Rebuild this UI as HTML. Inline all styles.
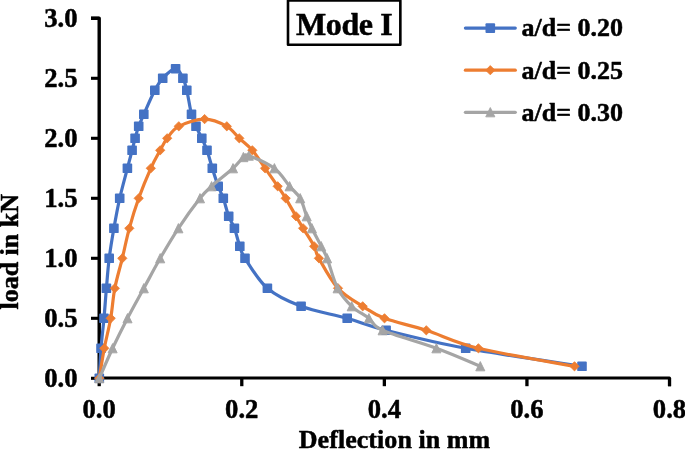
<!DOCTYPE html>
<html><head><meta charset="utf-8"><title>Mode I</title>
<style>
html,body{margin:0;padding:0;background:#fff;}
body{width:685px;height:449px;overflow:hidden;}
svg{display:block;}
text{font-family:"Liberation Serif",serif;font-weight:bold;fill:#000;stroke:#000;stroke-width:0.5px;stroke-linejoin:round;}
.ax{font-size:26px;}
.tk{font-size:26.67px;stroke-width:0.5px;}
.lg{font-size:26px;}
.ti{font-size:32px;letter-spacing:-0.4px;}
</style></head><body>
<svg width="685" height="449" viewBox="0 0 685 449">
<rect width="685" height="449" fill="#fff"/>
<rect x="288.0" y="0.55" width="112.35" height="44.15" fill="#fff" stroke="#000" stroke-width="2.6" stroke-linejoin="round"/>
<text class="ti" x="344.2" y="34.7" text-anchor="middle">Mode I</text>
<g stroke="#000" stroke-width="3.30" fill="none">
<path stroke-width="3.4" stroke-linejoin="round" d="M91 18.30 H99.20 V379.80"/>
<path stroke-width="3.0" stroke-linejoin="round" d="M97.60 378.10 H669.52 V386.2"/>
</g>
<g stroke="#000" stroke-width="3.1" fill="none">
<path d="M91 378.30 H99"/>
<path d="M91 318.30 H99"/>
<path d="M91 258.30 H99"/>
<path d="M91 198.30 H99"/>
<path d="M91 138.30 H99"/>
<path d="M91 78.30 H99"/>
<path d="M91 18.30 H99"/>
<path stroke-width="3.3" d="M99.20 378 V386.2"/>
<path stroke-width="3.3" d="M241.78 378 V386.2"/>
<path stroke-width="3.3" d="M384.36 378 V386.2"/>
<path stroke-width="3.3" d="M526.94 378 V386.2"/>
<path stroke-width="3.3" d="M669.52 378 V386.2"/>
</g>
<text class="tk" x="77.5" y="386.80" text-anchor="end">0.0</text>
<text class="tk" x="77.5" y="326.80" text-anchor="end">0.5</text>
<text class="tk" x="77.5" y="266.80" text-anchor="end">1.0</text>
<text class="tk" x="77.5" y="206.80" text-anchor="end">1.5</text>
<text class="tk" x="77.5" y="146.80" text-anchor="end">2.0</text>
<text class="tk" x="77.5" y="86.80" text-anchor="end">2.5</text>
<text class="tk" x="77.5" y="26.80" text-anchor="end">3.0</text>
<text class="tk" x="99.20" y="417.8" text-anchor="middle">0.0</text>
<text class="tk" x="241.78" y="417.8" text-anchor="middle">0.2</text>
<text class="tk" x="384.36" y="417.8" text-anchor="middle">0.4</text>
<text class="tk" x="526.94" y="417.8" text-anchor="middle">0.6</text>
<text class="tk" x="669.52" y="417.8" text-anchor="middle">0.8</text>
<text class="ax" x="394.5" y="448.4" text-anchor="middle" style="letter-spacing:0.05px">Deflection in mm</text>
<text class="ax" transform="translate(18.2 251.8) rotate(-90)" text-anchor="middle">load in kN</text>
<path d="M99.30 378.30 C99.58 373.30 100.22 358.30 101.00 348.30 C101.78 338.30 103.10 328.30 104.00 318.30 C104.90 308.30 105.53 298.30 106.40 288.30 C107.27 278.30 107.95 268.30 109.20 258.30 C110.45 248.30 112.15 238.30 113.90 228.30 C115.65 218.30 117.45 208.30 119.70 198.30 C121.95 188.30 125.33 176.30 127.40 168.30 C129.47 160.30 130.82 155.30 132.10 150.30 C133.38 145.30 134.00 142.30 135.10 138.30 C136.20 134.30 137.25 130.30 138.70 126.30 C140.15 122.30 141.12 120.30 143.80 114.30 C146.48 108.30 151.65 96.30 154.80 90.30 C157.95 84.30 159.23 81.90 162.70 78.30 C166.17 74.70 172.23 68.70 175.60 68.70 C178.97 68.70 181.03 74.70 182.90 78.30 C184.77 81.90 185.37 84.30 186.80 90.30 C188.23 96.30 189.97 108.30 191.50 114.30 C193.03 120.30 194.28 122.30 196.00 126.30 C197.72 130.30 199.97 134.30 201.80 138.30 C203.63 142.30 205.25 145.30 207.00 150.30 C208.75 155.30 210.43 162.30 212.30 168.30 C214.17 174.30 216.37 181.30 218.20 186.30 C220.03 191.30 221.55 193.30 223.30 198.30 C225.05 203.30 226.85 211.30 228.70 216.30 C230.55 221.30 232.55 223.30 234.40 228.30 C236.25 233.30 238.03 241.30 239.80 246.30 C241.57 251.30 240.40 251.30 245.00 258.30 C249.60 265.30 258.05 280.30 267.40 288.30 C276.75 296.30 287.80 301.30 301.10 306.30 C314.40 311.30 333.03 314.30 347.20 318.30 C361.37 322.30 366.35 325.30 386.10 330.30 C405.85 335.30 433.05 342.30 465.70 348.30 C498.35 354.30 562.62 363.30 582.00 366.30" fill="none" stroke="#4472C4" stroke-width="3.20" stroke-linejoin="round" stroke-linecap="round"/>
<g><rect x="94.50" y="373.50" width="9.60" height="9.60" rx="0.9" fill="#4472C4"/><rect x="96.20" y="343.50" width="9.60" height="9.60" rx="0.9" fill="#4472C4"/><rect x="99.20" y="313.50" width="9.60" height="9.60" rx="0.9" fill="#4472C4"/><rect x="101.60" y="283.50" width="9.60" height="9.60" rx="0.9" fill="#4472C4"/><rect x="104.40" y="253.50" width="9.60" height="9.60" rx="0.9" fill="#4472C4"/><rect x="109.10" y="223.50" width="9.60" height="9.60" rx="0.9" fill="#4472C4"/><rect x="114.90" y="193.50" width="9.60" height="9.60" rx="0.9" fill="#4472C4"/><rect x="122.60" y="163.50" width="9.60" height="9.60" rx="0.9" fill="#4472C4"/><rect x="127.30" y="145.50" width="9.60" height="9.60" rx="0.9" fill="#4472C4"/><rect x="130.30" y="133.50" width="9.60" height="9.60" rx="0.9" fill="#4472C4"/><rect x="133.90" y="121.50" width="9.60" height="9.60" rx="0.9" fill="#4472C4"/><rect x="139.00" y="109.50" width="9.60" height="9.60" rx="0.9" fill="#4472C4"/><rect x="150.00" y="85.50" width="9.60" height="9.60" rx="0.9" fill="#4472C4"/><rect x="157.90" y="73.50" width="9.60" height="9.60" rx="0.9" fill="#4472C4"/><rect x="170.80" y="63.90" width="9.60" height="9.60" rx="0.9" fill="#4472C4"/><rect x="178.10" y="73.50" width="9.60" height="9.60" rx="0.9" fill="#4472C4"/><rect x="182.00" y="85.50" width="9.60" height="9.60" rx="0.9" fill="#4472C4"/><rect x="186.70" y="109.50" width="9.60" height="9.60" rx="0.9" fill="#4472C4"/><rect x="191.20" y="121.50" width="9.60" height="9.60" rx="0.9" fill="#4472C4"/><rect x="197.00" y="133.50" width="9.60" height="9.60" rx="0.9" fill="#4472C4"/><rect x="202.20" y="145.50" width="9.60" height="9.60" rx="0.9" fill="#4472C4"/><rect x="207.50" y="163.50" width="9.60" height="9.60" rx="0.9" fill="#4472C4"/><rect x="213.40" y="181.50" width="9.60" height="9.60" rx="0.9" fill="#4472C4"/><rect x="218.50" y="193.50" width="9.60" height="9.60" rx="0.9" fill="#4472C4"/><rect x="223.90" y="211.50" width="9.60" height="9.60" rx="0.9" fill="#4472C4"/><rect x="229.60" y="223.50" width="9.60" height="9.60" rx="0.9" fill="#4472C4"/><rect x="235.00" y="241.50" width="9.60" height="9.60" rx="0.9" fill="#4472C4"/><rect x="240.20" y="253.50" width="9.60" height="9.60" rx="0.9" fill="#4472C4"/><rect x="262.60" y="283.50" width="9.60" height="9.60" rx="0.9" fill="#4472C4"/><rect x="296.30" y="301.50" width="9.60" height="9.60" rx="0.9" fill="#4472C4"/><rect x="342.40" y="313.50" width="9.60" height="9.60" rx="0.9" fill="#4472C4"/><rect x="381.30" y="325.50" width="9.60" height="9.60" rx="0.9" fill="#4472C4"/><rect x="460.90" y="343.50" width="9.60" height="9.60" rx="0.9" fill="#4472C4"/><rect x="577.20" y="361.50" width="9.60" height="9.60" rx="0.9" fill="#4472C4"/></g>
<path d="M99.30 378.30 C100.13 373.30 102.40 358.30 104.30 348.30 C106.20 338.30 108.95 328.30 110.70 318.30 C112.45 308.30 112.87 298.30 114.80 288.30 C116.73 278.30 119.88 268.30 122.30 258.30 C124.72 248.30 126.57 238.30 129.30 228.30 C132.03 218.30 135.12 208.30 138.70 198.30 C142.28 188.30 147.22 176.30 150.80 168.30 C154.38 160.30 157.47 155.30 160.20 150.30 C162.93 145.30 164.10 142.30 167.20 138.30 C170.30 134.30 172.57 129.50 178.80 126.30 C185.03 123.10 196.60 119.10 204.60 119.10 C212.60 119.10 221.02 123.10 226.80 126.30 C232.58 129.50 235.05 134.30 239.30 138.30 C243.55 142.30 248.00 145.30 252.30 150.30 C256.60 155.30 260.87 162.30 265.10 168.30 C269.33 174.30 274.27 181.30 277.70 186.30 C281.13 191.30 282.65 193.30 285.70 198.30 C288.75 203.30 293.10 211.30 296.00 216.30 C298.90 221.30 300.07 223.30 303.10 228.30 C306.13 233.30 311.57 241.30 314.20 246.30 C316.83 251.30 314.93 251.30 318.90 258.30 C322.87 265.30 330.70 280.30 338.00 288.30 C345.30 296.30 354.95 301.30 362.70 306.30 C370.45 311.30 373.90 314.30 384.50 318.30 C395.10 322.30 410.65 325.30 426.30 330.30 C441.95 335.30 453.70 342.30 478.40 348.30 C503.10 354.30 558.48 363.30 574.50 366.30" fill="none" stroke="#ED7D31" stroke-width="3.20" stroke-linejoin="round" stroke-linecap="round"/>
<g><path d="M99.30 373.65 L103.95 378.30 L99.30 382.95 L94.65 378.30Z" fill="#ED7D31" stroke="#ED7D31" stroke-width="0.8" stroke-linejoin="round"/><path d="M104.30 343.65 L108.95 348.30 L104.30 352.95 L99.65 348.30Z" fill="#ED7D31" stroke="#ED7D31" stroke-width="0.8" stroke-linejoin="round"/><path d="M110.70 313.65 L115.35 318.30 L110.70 322.95 L106.05 318.30Z" fill="#ED7D31" stroke="#ED7D31" stroke-width="0.8" stroke-linejoin="round"/><path d="M114.80 283.65 L119.45 288.30 L114.80 292.95 L110.15 288.30Z" fill="#ED7D31" stroke="#ED7D31" stroke-width="0.8" stroke-linejoin="round"/><path d="M122.30 253.65 L126.95 258.30 L122.30 262.95 L117.65 258.30Z" fill="#ED7D31" stroke="#ED7D31" stroke-width="0.8" stroke-linejoin="round"/><path d="M129.30 223.65 L133.95 228.30 L129.30 232.95 L124.65 228.30Z" fill="#ED7D31" stroke="#ED7D31" stroke-width="0.8" stroke-linejoin="round"/><path d="M138.70 193.65 L143.35 198.30 L138.70 202.95 L134.05 198.30Z" fill="#ED7D31" stroke="#ED7D31" stroke-width="0.8" stroke-linejoin="round"/><path d="M150.80 163.65 L155.45 168.30 L150.80 172.95 L146.15 168.30Z" fill="#ED7D31" stroke="#ED7D31" stroke-width="0.8" stroke-linejoin="round"/><path d="M160.20 145.65 L164.85 150.30 L160.20 154.95 L155.55 150.30Z" fill="#ED7D31" stroke="#ED7D31" stroke-width="0.8" stroke-linejoin="round"/><path d="M167.20 133.65 L171.85 138.30 L167.20 142.95 L162.55 138.30Z" fill="#ED7D31" stroke="#ED7D31" stroke-width="0.8" stroke-linejoin="round"/><path d="M178.80 121.65 L183.45 126.30 L178.80 130.95 L174.15 126.30Z" fill="#ED7D31" stroke="#ED7D31" stroke-width="0.8" stroke-linejoin="round"/><path d="M204.60 114.45 L209.25 119.10 L204.60 123.75 L199.95 119.10Z" fill="#ED7D31" stroke="#ED7D31" stroke-width="0.8" stroke-linejoin="round"/><path d="M226.80 121.65 L231.45 126.30 L226.80 130.95 L222.15 126.30Z" fill="#ED7D31" stroke="#ED7D31" stroke-width="0.8" stroke-linejoin="round"/><path d="M239.30 133.65 L243.95 138.30 L239.30 142.95 L234.65 138.30Z" fill="#ED7D31" stroke="#ED7D31" stroke-width="0.8" stroke-linejoin="round"/><path d="M252.30 145.65 L256.95 150.30 L252.30 154.95 L247.65 150.30Z" fill="#ED7D31" stroke="#ED7D31" stroke-width="0.8" stroke-linejoin="round"/><path d="M265.10 163.65 L269.75 168.30 L265.10 172.95 L260.45 168.30Z" fill="#ED7D31" stroke="#ED7D31" stroke-width="0.8" stroke-linejoin="round"/><path d="M277.70 181.65 L282.35 186.30 L277.70 190.95 L273.05 186.30Z" fill="#ED7D31" stroke="#ED7D31" stroke-width="0.8" stroke-linejoin="round"/><path d="M285.70 193.65 L290.35 198.30 L285.70 202.95 L281.05 198.30Z" fill="#ED7D31" stroke="#ED7D31" stroke-width="0.8" stroke-linejoin="round"/><path d="M296.00 211.65 L300.65 216.30 L296.00 220.95 L291.35 216.30Z" fill="#ED7D31" stroke="#ED7D31" stroke-width="0.8" stroke-linejoin="round"/><path d="M303.10 223.65 L307.75 228.30 L303.10 232.95 L298.45 228.30Z" fill="#ED7D31" stroke="#ED7D31" stroke-width="0.8" stroke-linejoin="round"/><path d="M314.20 241.65 L318.85 246.30 L314.20 250.95 L309.55 246.30Z" fill="#ED7D31" stroke="#ED7D31" stroke-width="0.8" stroke-linejoin="round"/><path d="M318.90 253.65 L323.55 258.30 L318.90 262.95 L314.25 258.30Z" fill="#ED7D31" stroke="#ED7D31" stroke-width="0.8" stroke-linejoin="round"/><path d="M338.00 283.65 L342.65 288.30 L338.00 292.95 L333.35 288.30Z" fill="#ED7D31" stroke="#ED7D31" stroke-width="0.8" stroke-linejoin="round"/><path d="M362.70 301.65 L367.35 306.30 L362.70 310.95 L358.05 306.30Z" fill="#ED7D31" stroke="#ED7D31" stroke-width="0.8" stroke-linejoin="round"/><path d="M384.50 313.65 L389.15 318.30 L384.50 322.95 L379.85 318.30Z" fill="#ED7D31" stroke="#ED7D31" stroke-width="0.8" stroke-linejoin="round"/><path d="M426.30 325.65 L430.95 330.30 L426.30 334.95 L421.65 330.30Z" fill="#ED7D31" stroke="#ED7D31" stroke-width="0.8" stroke-linejoin="round"/><path d="M478.40 343.65 L483.05 348.30 L478.40 352.95 L473.75 348.30Z" fill="#ED7D31" stroke="#ED7D31" stroke-width="0.8" stroke-linejoin="round"/><path d="M574.50 361.65 L579.15 366.30 L574.50 370.95 L569.85 366.30Z" fill="#ED7D31" stroke="#ED7D31" stroke-width="0.8" stroke-linejoin="round"/></g>
<path d="M99.30 378.30 C101.52 373.30 107.90 358.30 112.60 348.30 C117.30 338.30 122.30 328.30 127.50 318.30 C132.70 308.30 138.35 298.30 143.80 288.30 C149.25 278.30 154.43 268.30 160.20 258.30 C165.97 248.30 171.77 238.30 178.40 228.30 C185.03 218.30 194.47 205.30 200.00 198.30 C205.53 191.30 206.10 191.30 211.60 186.30 C217.10 181.30 227.70 173.16 233.00 168.30 C238.30 163.44 240.77 159.24 243.40 157.14 C246.03 155.04 243.63 153.84 248.80 155.70 C253.97 157.56 267.60 163.20 274.40 168.30 C281.20 173.40 285.30 181.30 289.60 186.30 C293.90 191.30 297.35 193.30 300.20 198.30 C303.05 203.30 304.75 211.30 306.70 216.30 C308.65 221.30 309.48 223.30 311.90 228.30 C314.32 233.30 318.67 241.30 321.20 246.30 C323.73 251.30 324.37 251.30 327.10 258.30 C329.83 265.30 333.50 280.30 337.60 288.30 C341.70 296.30 346.48 301.30 351.70 306.30 C356.92 311.30 363.75 314.30 368.90 318.30 C374.05 322.30 371.35 325.30 382.60 330.30 C393.85 335.30 420.12 342.30 436.40 348.30 C452.68 354.30 472.98 363.30 480.30 366.30" fill="none" stroke="#A5A5A5" stroke-width="3.20" stroke-linejoin="round" stroke-linecap="round"/>
<g><path d="M99.30 373.55 L103.85 382.85 L94.75 382.85Z" fill="#A5A5A5" stroke="#A5A5A5" stroke-width="0.9" stroke-linejoin="round"/><path d="M112.60 343.55 L117.15 352.85 L108.05 352.85Z" fill="#A5A5A5" stroke="#A5A5A5" stroke-width="0.9" stroke-linejoin="round"/><path d="M127.50 313.55 L132.05 322.85 L122.95 322.85Z" fill="#A5A5A5" stroke="#A5A5A5" stroke-width="0.9" stroke-linejoin="round"/><path d="M143.80 283.55 L148.35 292.85 L139.25 292.85Z" fill="#A5A5A5" stroke="#A5A5A5" stroke-width="0.9" stroke-linejoin="round"/><path d="M160.20 253.55 L164.75 262.85 L155.65 262.85Z" fill="#A5A5A5" stroke="#A5A5A5" stroke-width="0.9" stroke-linejoin="round"/><path d="M178.40 223.55 L182.95 232.85 L173.85 232.85Z" fill="#A5A5A5" stroke="#A5A5A5" stroke-width="0.9" stroke-linejoin="round"/><path d="M200.00 193.55 L204.55 202.85 L195.45 202.85Z" fill="#A5A5A5" stroke="#A5A5A5" stroke-width="0.9" stroke-linejoin="round"/><path d="M211.60 181.55 L216.15 190.85 L207.05 190.85Z" fill="#A5A5A5" stroke="#A5A5A5" stroke-width="0.9" stroke-linejoin="round"/><path d="M233.00 163.55 L237.55 172.85 L228.45 172.85Z" fill="#A5A5A5" stroke="#A5A5A5" stroke-width="0.9" stroke-linejoin="round"/><path d="M243.40 152.39 L247.95 161.69 L238.85 161.69Z" fill="#A5A5A5" stroke="#A5A5A5" stroke-width="0.9" stroke-linejoin="round"/><path d="M248.80 150.95 L253.35 160.25 L244.25 160.25Z" fill="#A5A5A5" stroke="#A5A5A5" stroke-width="0.9" stroke-linejoin="round"/><path d="M274.40 163.55 L278.95 172.85 L269.85 172.85Z" fill="#A5A5A5" stroke="#A5A5A5" stroke-width="0.9" stroke-linejoin="round"/><path d="M289.60 181.55 L294.15 190.85 L285.05 190.85Z" fill="#A5A5A5" stroke="#A5A5A5" stroke-width="0.9" stroke-linejoin="round"/><path d="M300.20 193.55 L304.75 202.85 L295.65 202.85Z" fill="#A5A5A5" stroke="#A5A5A5" stroke-width="0.9" stroke-linejoin="round"/><path d="M306.70 211.55 L311.25 220.85 L302.15 220.85Z" fill="#A5A5A5" stroke="#A5A5A5" stroke-width="0.9" stroke-linejoin="round"/><path d="M311.90 223.55 L316.45 232.85 L307.35 232.85Z" fill="#A5A5A5" stroke="#A5A5A5" stroke-width="0.9" stroke-linejoin="round"/><path d="M321.20 241.55 L325.75 250.85 L316.65 250.85Z" fill="#A5A5A5" stroke="#A5A5A5" stroke-width="0.9" stroke-linejoin="round"/><path d="M327.10 253.55 L331.65 262.85 L322.55 262.85Z" fill="#A5A5A5" stroke="#A5A5A5" stroke-width="0.9" stroke-linejoin="round"/><path d="M337.60 283.55 L342.15 292.85 L333.05 292.85Z" fill="#A5A5A5" stroke="#A5A5A5" stroke-width="0.9" stroke-linejoin="round"/><path d="M351.70 301.55 L356.25 310.85 L347.15 310.85Z" fill="#A5A5A5" stroke="#A5A5A5" stroke-width="0.9" stroke-linejoin="round"/><path d="M368.90 313.55 L373.45 322.85 L364.35 322.85Z" fill="#A5A5A5" stroke="#A5A5A5" stroke-width="0.9" stroke-linejoin="round"/><path d="M382.60 325.55 L387.15 334.85 L378.05 334.85Z" fill="#A5A5A5" stroke="#A5A5A5" stroke-width="0.9" stroke-linejoin="round"/><path d="M436.40 343.55 L440.95 352.85 L431.85 352.85Z" fill="#A5A5A5" stroke="#A5A5A5" stroke-width="0.9" stroke-linejoin="round"/><path d="M480.30 361.55 L484.85 370.85 L475.75 370.85Z" fill="#A5A5A5" stroke="#A5A5A5" stroke-width="0.9" stroke-linejoin="round"/></g>
<path d="M465.4 28.10 H515.3" stroke="#4472C4" stroke-width="3.20" stroke-linecap="round" fill="none"/>
<rect x="485.50" y="23.30" width="9.60" height="9.60" rx="0.9" fill="#4472C4"/>
<text class="lg" x="521.5" y="36.40">a/d= 0.20</text>
<path d="M465.4 70.20 H515.3" stroke="#ED7D31" stroke-width="3.20" stroke-linecap="round" fill="none"/>
<path d="M490.30 65.55 L494.95 70.20 L490.30 74.85 L485.65 70.20Z" fill="#ED7D31" stroke="#ED7D31" stroke-width="0.8" stroke-linejoin="round"/>
<text class="lg" x="521.5" y="78.50">a/d= 0.25</text>
<path d="M465.4 112.30 H515.3" stroke="#A5A5A5" stroke-width="3.20" stroke-linecap="round" fill="none"/>
<path d="M490.30 107.55 L494.85 116.85 L485.75 116.85Z" fill="#A5A5A5" stroke="#A5A5A5" stroke-width="0.9" stroke-linejoin="round"/>
<text class="lg" x="521.5" y="120.60">a/d= 0.30</text>
</svg></body></html>
